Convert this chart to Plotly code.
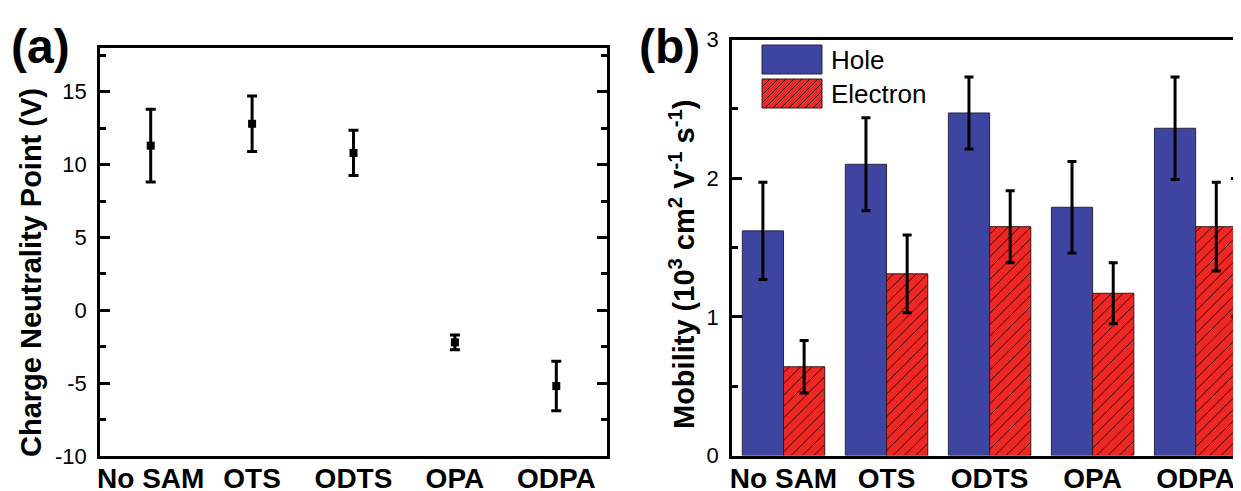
import plotly.graph_objects as go

# ---------------- data ----------------
categories = ["No SAM", "OTS", "ODTS", "OPA", "ODPA"]
cnp = [11.3, 12.8, 10.8, -2.2, -5.2]
cnp_err = [2.5, 1.9, 1.55, 0.5, 1.7]
hole = [1.62, 2.10, 2.47, 1.79, 2.36]
hole_err = [0.35, 0.335, 0.26, 0.33, 0.37]
electron = [0.64, 1.31, 1.65, 1.17, 1.65]
electron_err = [0.19, 0.28, 0.26, 0.22, 0.32]
series_names = ["Hole", "Electron"]
cnp_ticks = [-10, -5, 0, 5, 10, 15]
mob_ticks = [0, 1, 2, 3]

# the page body adds an 8px margin; size the figure so it fills the window exactly
OFF = 8
W, H = 1241 - OFF, 491 - OFF
FONT = "Liberation Sans, Arial, Helvetica, sans-serif"
BLUE = "rgb(62,69,160)"
RED = "rgb(238,40,36)"


def px(x):
    return (x - OFF) / W


def py(y):
    return 1 - (y - OFF) / H


fig = go.Figure()

# panel (a)
fig.add_trace(go.Scatter(
    x=categories, y=cnp, mode="markers",
    marker=dict(symbol="square", size=8, color="black"),
    error_y=dict(type="data", array=cnp_err, color="black", thickness=3, width=5),
    xaxis="x", yaxis="y", showlegend=False,
))

# panel (b)
fig.add_trace(go.Bar(
    x=categories, y=hole, name=series_names[0],
    marker=dict(color=BLUE, line=dict(color="rgb(40,40,60)", width=1)),
    error_y=dict(type="data", array=hole_err, color="black", thickness=3, width=4.5),
    xaxis="x2", yaxis="y2", showlegend=False,
))
fig.add_trace(go.Bar(
    x=categories, y=electron, name=series_names[1],
    marker=dict(color=RED, line=dict(color="rgb(60,20,20)", width=1),
                pattern=dict(shape="/", fgcolor="black", bgcolor=RED, size=8, solidity=0.1)),
    error_y=dict(type="data", array=electron_err, color="black", thickness=3, width=4.5),
    xaxis="x2", yaxis="y2", showlegend=False,
))

axis_common = dict(showline=True, linecolor="black", linewidth=2.5, automargin=False,
                   showgrid=False, zeroline=False)
ytick_common = dict(ticks="inside", ticklen=10, tickwidth=2.5, tickcolor="black",
                    mirror="ticks", ticklabelstandoff=6,
                    tickfont=dict(family=FONT, size=22, color="black"))
xtick_common = dict(ticks="", mirror=True, ticklabelstandoff=-4,
                    tickfont=dict(family=FONT, size=28, color="black"),
                    tickvals=categories, ticktext=["<b>%s</b>" % c for c in categories])
minor_common = dict(ticks="inside", ticklen=6, tickwidth=2.5, tickcolor="black")

fig.update_layout(
    template="none",
    width=W, height=H, margin=dict(l=0, r=0, t=0, b=0, pad=0),
    paper_bgcolor="white", plot_bgcolor="white",
    barmode="group", bargap=0.2, bargroupgap=0,
    font=dict(family=FONT, color="black"),
    xaxis=dict(domain=[px(100), px(607)], range=[-0.5, 4.5], anchor="y",
               **axis_common, **xtick_common),
    yaxis=dict(domain=[py(456), py(48)], range=[-10, 18], anchor="x",
               tickmode="array", tickvals=cnp_ticks, ticktext=[str(t) for t in cnp_ticks],
               minor=dict(tickvals=[-7.5, -2.5, 2.5, 7.5, 12.5, 17.5], **minor_common),
               **axis_common, **ytick_common),
    xaxis2=dict(domain=[px(732), 1.0], range=[-0.5, 4.44], anchor="y2",
                **axis_common, **xtick_common),
    yaxis2=dict(domain=[py(455.5), py(39.5)], range=[0, 3], anchor="x2",
                tickmode="array", tickvals=mob_ticks, ticktext=[str(t) for t in mob_ticks],
                minor=dict(tickvals=[0.5, 1.5, 2.5], **minor_common),
                **axis_common, **ytick_common),
)


def ann(text, x, y, size, bold=False, angle=0, xanchor="center"):
    return dict(text=("<b>%s</b>" % text) if bold else text, x=px(x), y=py(y),
                xref="paper", yref="paper", xanchor=xanchor, yanchor="middle",
                textangle=angle, showarrow=False,
                font=dict(family=FONT, size=size, color="black"))


annotations = [
    ann("(a)", 40, 46, 48, bold=True),
    ann("(b)", 669, 46, 48, bold=True),
    ann("Charge Neutrality Point (V)", 31, 273, 29, bold=True, angle=-90),
    ann("Mobility (10<sup>3</sup> cm<sup>2</sup> V<sup>-1</sup> s<sup>-1</sup>)", 682, 265, 29,
        bold=True, angle=-90),
    ann(series_names[0], 829, 60, 26, xanchor="left"),
    ann(series_names[1], 829, 94, 26, xanchor="left"),
]
fig.update_layout(annotations=annotations)

# manual legend swatches
lx0, lx1 = 762, 822
shapes = [
    dict(type="rect", xref="paper", yref="paper", x0=px(lx0), x1=px(lx1), y0=py(74), y1=py(45),
         fillcolor=BLUE, line=dict(color="rgb(40,40,60)", width=1)),
    dict(type="rect", xref="paper", yref="paper", x0=px(lx0), x1=px(lx1), y0=py(108), y1=py(79),
         fillcolor=RED, line=dict(color="rgb(60,20,20)", width=1)),
]
hy0, hy1 = 79, 108
h = hy1 - hy0
path = ""
x = lx0 - h
while x < lx1:
    t0 = max(0, lx0 - x)
    t1 = min(h, lx1 - x)
    if t1 > t0:
        path += "M%.4f,%.4f L%.4f,%.4f " % (px(x + t0), py(hy1 - t0), px(x + t1), py(hy1 - t1))
    x += 8
shapes.append(dict(type="path", xref="paper", yref="paper", path=path,
                   line=dict(color="black", width=0.8)))
fig.update_layout(shapes=shapes)

fig.write_html("out.html")
